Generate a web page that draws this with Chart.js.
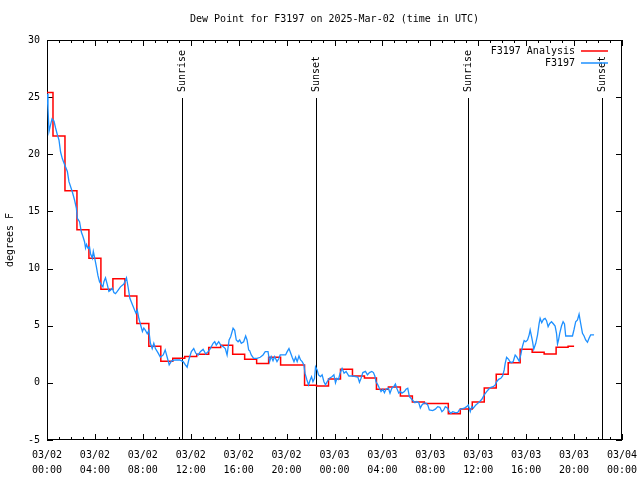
<!DOCTYPE html>
<html>
<head>
<meta charset="utf-8">
<script src="https://cdn.jsdelivr.net/npm/chart.js@4/dist/chart.umd.min.js"></script>
<style>
  body { margin: 0; background: #fff; }
  canvas { display: block; }
</style>
</head>
<body>
<canvas id="dewChart" width="640" height="480"></canvas>
<script>
// hourly analysis values (deg F), hour 0 = 03/02 00:00 UTC
const analysisDewpt = [
  25.4, 21.6, 16.8, 13.4, 10.9, 8.2, 9.1, 7.6, 5.2, 3.2,
  1.9, 2.15, 2.3, 2.5, 3.1, 3.3, 2.5, 2.06, 1.7, 2.24,
  1.57, 1.57, -0.2, -0.27, 0.34, 1.19, 0.6, 0.43, -0.56, -0.36,
  -1.15, -1.67, -1.8, -1.8, -2.7, -2.28, -1.67, -0.45, 0.75, 1.76,
  2.94, 2.68, 2.53, 3.11, 3.2
];

// station observations: minutes since 03/02 00:00 UTC
const obsMinutes = [
  0, 5, 10, 18, 25, 35, 43, 52, 60, 68, 77, 88, 102, 110, 127, 138, 147, 152, 163, 172,
  180, 188, 193, 198, 205, 213, 218, 227, 232, 238, 247, 255, 263, 272, 280, 285, 293, 302, 310, 318,
  327, 335, 343, 352, 368, 385, 398, 407, 415, 432, 445, 452, 460, 470, 478, 485, 493, 502, 510, 518,
  527, 535, 543, 557, 568, 582, 592, 602, 612, 623, 640, 665, 682, 693, 702, 710, 723, 735, 745, 757,
  768, 782, 795, 807, 818, 832, 840, 848, 860, 870, 882, 893, 902, 912, 920, 932, 940, 948, 957, 965,
  973, 985, 995, 1002, 1010, 1015, 1023, 1035, 1052, 1068, 1082, 1093, 1107, 1115, 1123, 1132, 1140, 1152, 1162, 1168,
  1195, 1203, 1212, 1218, 1228, 1237, 1245, 1253, 1262, 1270, 1278, 1287, 1292, 1302, 1310, 1318, 1325, 1332, 1340, 1345,
  1353, 1360, 1370, 1378, 1387, 1395, 1403, 1415, 1427, 1437, 1445, 1452, 1460, 1468, 1478, 1488, 1498, 1512, 1532, 1545,
  1557, 1565, 1573, 1582, 1595, 1605, 1615, 1627, 1635, 1642, 1648, 1657, 1665, 1673, 1682, 1690, 1698, 1710, 1718, 1727,
  1737, 1745, 1752, 1762, 1770, 1778, 1790, 1798, 1807, 1815, 1823, 1832, 1843, 1852, 1862, 1870, 1878, 1887, 1898, 1907,
  1915, 1932, 1945, 1957, 1968, 1978, 1987, 1995, 2007, 2015, 2023, 2032, 2045, 2057, 2065, 2073, 2090, 2102, 2110, 2120,
  2128, 2135, 2148, 2162, 2178, 2190, 2202, 2212, 2223, 2235, 2245, 2252, 2262, 2273, 2282, 2290, 2295, 2302, 2312, 2318,
  2327, 2335, 2340, 2345, 2352, 2360, 2365, 2373, 2382, 2390, 2398, 2407, 2415, 2420, 2427, 2432, 2438, 2448, 2457, 2465,
  2470, 2478, 2487, 2495, 2502, 2510, 2518, 2527, 2537, 2545, 2552, 2557, 2562, 2568, 2577, 2585, 2592, 2598, 2632, 2640,
  2648, 2657, 2665, 2673, 2682, 2690, 2698, 2707, 2715, 2723, 2740
];
const obsDewpt = [
  25.3, 24.0, 22.0, 22.6, 23.1, 22.9, 22.3, 21.7, 21.25, 20.2, 19.6, 19.1, 18.5, 17.6, 16.7, 16.0, 15.3, 14.4, 14.1, 13.2,
  12.8, 12.35, 11.8, 12.1, 11.8, 11.9, 11.3, 10.9, 11.5, 11.0, 10.2, 9.4, 8.85, 8.6, 8.4, 8.85, 9.2, 8.6, 8.0, 8.1,
  8.3, 7.9, 7.8, 8.0, 8.4, 8.65, 9.2, 8.3, 7.4, 6.66, 6.1, 6.38, 5.65, 5.0, 4.5, 4.8, 4.6, 4.3, 4.6, 3.46,
  3.0, 3.46, 3.0, 2.6, 2.24, 2.44, 2.88, 2.24, 1.57, 1.9, 2.0, 2.0, 1.86, 1.57, 1.37, 2.0, 2.73, 3.0, 2.6, 2.44,
  2.73, 2.94, 2.53, 2.73, 3.0, 3.46, 3.6, 3.3, 3.6, 3.3, 3.17, 3.0, 2.44, 3.75, 4.04, 4.78, 4.6, 3.75, 3.6, 3.75,
  3.46, 3.6, 4.1, 3.75, 2.88, 2.82, 2.44, 2.15, 2.15, 2.24, 2.44, 2.73, 2.73, 1.86, 2.3, 1.94, 2.3, 1.86, 2.15, 2.44,
  2.44, 2.73, 3.0, 2.73, 2.24, 1.86, 2.24, 1.86, 2.35, 2.0, 1.86, 1.57, 0.85, 0.25, -0.18, 0.25, 0.54, 0.1, 0.4, 1.4,
  1.13, 0.7, 0.54, 0.7, 0.1, -0.18, 0.1, 0.4, 0.54, 0.7, 0.0, 0.4, 0.3, 0.85, 1.27, 0.85, 1.0, 0.6, 0.6, 0.54,
  0.5, 0.05, 0.4, 0.9, 1.0, 0.7, 0.9, 1.0, 0.9, 0.6, 0.1, -0.18, -0.47, -0.76, -0.56, -0.86, -0.56, -0.47, -0.9, -0.47,
  -0.33, -0.1, -0.47, -0.9, -0.76, -0.9, -0.76, -0.56, -0.47, -1.2, -1.35, -1.55, -1.73, -1.64, -1.73, -2.2, -1.93, -1.78, -1.78, -1.93,
  -2.37, -2.43, -2.3, -2.08, -2.14, -2.52, -2.37, -2.08, -2.22, -2.52, -2.66, -2.52, -2.6, -2.6, -2.37, -2.3, -2.22, -2.08, -1.93, -2.52,
  -2.08, -2.22, -1.93, -1.73, -1.44, -1.06, -0.77, -0.56, -0.39, -0.33, -0.18, 0.1, 0.31, 0.4, 0.6, 1.13, 1.7, 2.24, 2.06, 1.86,
  1.77, 1.86, 2.15, 2.44, 2.3, 2.06, 1.9, 2.44, 3.23, 3.7, 3.6, 3.75, 4.2, 4.63, 4.04, 3.6, 2.94, 3.46, 4.2, 5.2,
  5.64, 5.26, 5.56, 5.64, 5.44, 4.92, 5.2, 5.35, 5.15, 4.97, 4.33, 3.4, 3.75, 4.33, 4.97, 5.35, 5.15, 4.1, 4.1, 4.69,
  5.35, 5.5, 6.0, 5.2, 4.33, 4.1, 3.75, 3.55, 3.9, 4.2, 4.2
];

// sun events, minutes since 03/02 00:00 UTC
const sunTimes = [675, 1345, 2110, 2780];
const sunLabels = ["Sunrise", "Sunset", "Sunrise", "Sunset"];

const titleText = "Dew Point for F3197 on 2025-Mar-02 (time in UTC)";
const monoFont = '"DejaVu Sans Mono", "Liberation Mono", monospace';
const analysisColor = "#ff0000";
const obsColor = "#1e90ff";

function pad2(n) {
  return (n < 10 ? "0" : "") + n;
}

// gnuplot-like frame, ticks, sun lines, title and key
const gnuplotFrame = {
  id: "gnuplotFrame",
  beforeDatasetsDraw(chart) {
    const { ctx, chartArea: a, scales } = chart;
    const x = scales.x, y = scales.y;
    ctx.save();
    ctx.strokeStyle = "#000";
    ctx.fillStyle = "#000";
    ctx.lineWidth = 1;

    // border
    ctx.strokeRect(a.left + 0.5, a.top + 0.5, a.width - 1, a.height - 1);

    // x ticks (major every 4h, minor every hour), mirrored on top
    ctx.beginPath();
    for (let m = 0; m <= 2880; m += 60) {
      const px = Math.round(x.getPixelForValue(m)) + 0.5;
      const len = m % 240 === 0 ? 6 : 3;
      ctx.moveTo(px, a.bottom);
      ctx.lineTo(px, a.bottom - len);
      ctx.moveTo(px, a.top);
      ctx.lineTo(px, a.top + len);
    }
    // y ticks, mirrored on right
    for (let v = -5; v <= 30; v += 5) {
      const py = Math.round(y.getPixelForValue(v)) + 0.5;
      ctx.moveTo(a.left, py);
      ctx.lineTo(a.left + 6, py);
      ctx.moveTo(a.right, py);
      ctx.lineTo(a.right - 6, py);
    }
    ctx.stroke();

    // sunrise / sunset markers
    ctx.font = "10px " + monoFont;
    sunTimes.forEach(function (t, i) {
      const px = Math.round(x.getPixelForValue(t)) + 0.5;
      ctx.beginPath();
      ctx.moveTo(px, a.top + 58);
      ctx.lineTo(px, a.bottom);
      ctx.stroke();
      ctx.save();
      ctx.translate(px, a.top + 52);
      ctx.rotate(-Math.PI / 2);
      ctx.textAlign = "left";
      ctx.textBaseline = "middle";
      ctx.fillText(sunLabels[i], 0, 0);
      ctx.restore();
    });

    // title
    ctx.textAlign = "center";
    ctx.textBaseline = "middle";
    ctx.fillText(titleText, (a.left + a.right) / 2, 19);
    ctx.restore();
  },
  afterDatasetsDraw(chart) {
    const { ctx } = chart;
    const keys = [
      { text: "F3197 Analysis", color: analysisColor },
      { text: "F3197", color: obsColor },
    ];
    ctx.save();
    ctx.font = "10px " + monoFont;
    ctx.textAlign = "right";
    ctx.textBaseline = "middle";
    keys.forEach(function (k, i) {
      const ty = 51 + i * 12;
      ctx.fillStyle = "#000";
      ctx.fillText(k.text, 575, ty);
      ctx.strokeStyle = k.color;
      ctx.lineWidth = 1.5;
      ctx.beginPath();
      ctx.moveTo(581, ty);
      ctx.lineTo(608, ty);
      ctx.stroke();
    });
    ctx.restore();
  },
};

const analysisData = analysisDewpt.map((v, i) => ({ x: i * 60, y: v }));
const obsData = obsMinutes.map((m, i) => ({ x: m, y: obsDewpt[i] }));

const ctx = document.getElementById("dewChart").getContext("2d");
const chart = new Chart(ctx, {
  type: "line",
  data: {
    datasets: [
      {
        label: "F3197 Analysis",
        data: analysisData,
        borderColor: analysisColor,
        borderWidth: 1.5,
        stepped: "middle",
        pointRadius: 0,
        fill: false,
        order: 1,
      },
      {
        label: "F3197",
        data: obsData,
        borderColor: obsColor,
        borderWidth: 1.3,
        pointRadius: 0,
        tension: 0,
        fill: false,
        order: 0,
      },
    ],
  },
  options: {
    responsive: false,
    animation: false,
    devicePixelRatio: 1,
    layout: { padding: { top: 40, right: 18, left: 0, bottom: 0 } },
    plugins: {
      legend: { display: false },
      title: { display: false },
      tooltip: { enabled: false },
    },
    scales: {
      x: {
        type: "linear",
        min: 0,
        max: 2880,
        grid: { display: false, drawTicks: false },
        border: { display: false },
        ticks: {
          stepSize: 240,
          autoSkip: false,
          maxRotation: 0,
          padding: 8,
          color: "#000",
          font: { family: monoFont, size: 10, lineHeight: 1.5 },
          callback: function (value) {
            const day = 2 + Math.floor(value / 1440);
            const hh = Math.floor((value % 1440) / 60);
            return ["03/" + pad2(day), pad2(hh) + ":00"];
          },
        },
        afterFit: function (scale) {
          scale.height = 40;
          scale.paddingLeft = 0;
          scale.paddingRight = 0;
        },
      },
      y: {
        min: -5,
        max: 30,
        grid: { display: false, drawTicks: false },
        border: { display: false },
        ticks: {
          stepSize: 5,
          padding: 7,
          color: "#000",
          font: { family: monoFont, size: 10 },
        },
        title: {
          display: true,
          text: "degrees F",
          color: "#000",
          font: { family: monoFont, size: 10 },
          padding: { top: 4, bottom: 4 },
        },
        afterFit: function (scale) {
          scale.width = 47;
          scale.paddingTop = 0;
          scale.paddingBottom = 0;
        },
      },
    },
  },
  plugins: [gnuplotFrame],
});
</script>
</body>
</html>
